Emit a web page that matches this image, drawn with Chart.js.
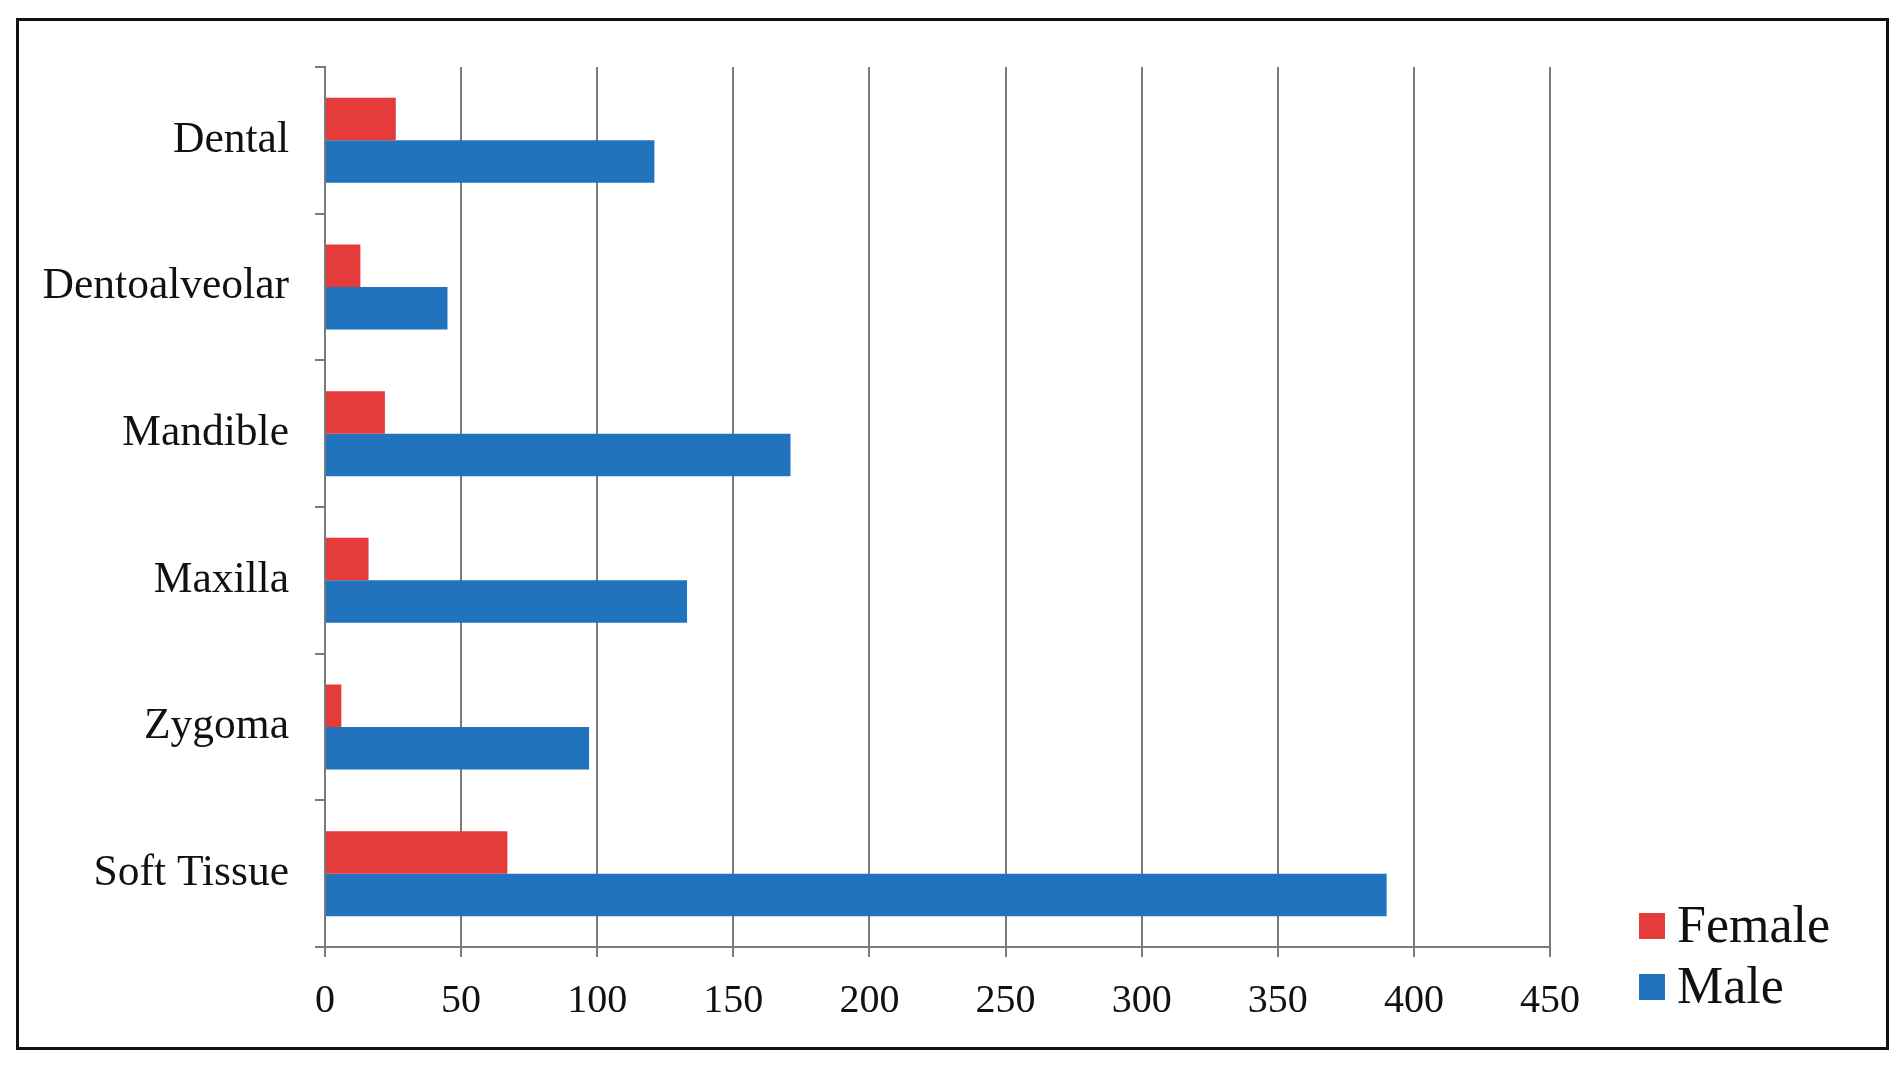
<!DOCTYPE html>
<html>
<head>
    <title>Injuries by Site and Sex</title>
    <script src="https://cdn.jsdelivr.net/npm/chart.js"></script>
    <style>
        body { margin: 0; background: #fff; }
        #wrap { position: absolute; left: 0; top: 0; width: 1902px; height: 1066px; }
        #frame { position: absolute; left: 16px; top: 18px; width: 1867px; height: 1026px; border: 3px solid #111; }
        #legend { position: absolute; left: 1639px; top: 894px; font-family: 'Liberation Serif', 'Times New Roman', serif; font-size: 52px; color: #111; }
        .item { height: 61px; line-height: 61px; white-space: nowrap; }
        .box { display: inline-block; width: 26px; height: 26px; margin-right: 12px; vertical-align: middle; position: relative; top: -4px; }
    </style>
</head>
<body>
    <div id="wrap">
        <div id="frame"></div>
        <canvas id="injuryChart" width="1902" height="1066"></canvas>
        <div id="legend"></div>
    </div>
    <script>
        const categories = ['Dental', 'Dentoalveolar', 'Mandible', 'Maxilla', 'Zygoma', 'Soft Tissue'];
        const female = [26, 13, 22, 16, 6, 67];
        const male = [121, 45, 171, 133, 97, 390];
        const xTicks = [0, 50, 100, 150, 200, 250, 300, 350, 400, 450];

        const serif = "'Liberation Serif', 'Times New Roman', serif";
        const gridGray = '#7a7a7a';

        const datasets = [
            { label: 'Female', data: female, backgroundColor: '#e53c3b' },
            { label: 'Male', data: male, backgroundColor: '#2173be' }
        ];

        const ctx = document.getElementById('injuryChart').getContext('2d');
        const chart = new Chart(ctx, {
            type: 'bar',
            data: { labels: categories, datasets: datasets },
            options: {
                indexAxis: 'y',
                responsive: false,
                animation: false,
                devicePixelRatio: 1,
                categoryPercentage: 0.58,
                barPercentage: 1.0,
                layout: { padding: { left: 0, top: 67, right: 352, bottom: 0 } },
                plugins: {
                    legend: { display: false },
                    tooltip: { enabled: false }
                },
                scales: {
                    x: {
                        min: 0,
                        max: 450,
                        afterBuildTicks: scale => { scale.ticks = xTicks.map(v => ({ value: v })); },
                        afterFit: scale => { scale.height = 119; },
                        grid: { color: gridGray, lineWidth: 2, tickLength: 10 },
                        border: { color: gridGray, width: 2 },
                        ticks: { color: '#111', padding: 20, font: { family: serif, size: 40 } }
                    },
                    y: {
                        afterFit: scale => { scale.width = 325; },
                        grid: { offset: true, drawOnChartArea: false, color: gridGray, lineWidth: 2, tickLength: 10 },
                        border: { color: gridGray, width: 2 },
                        ticks: { color: '#111', padding: 26, font: { family: serif, size: 43.5 } }
                    }
                }
            }
        });

        const legend = document.getElementById('legend');
        datasets.forEach(ds => {
            const row = document.createElement('div');
            row.className = 'item';
            const box = document.createElement('span');
            box.className = 'box';
            box.style.background = ds.backgroundColor;
            row.appendChild(box);
            row.appendChild(document.createTextNode(ds.label));
            legend.appendChild(row);
        });
    </script>
</body>
</html>
